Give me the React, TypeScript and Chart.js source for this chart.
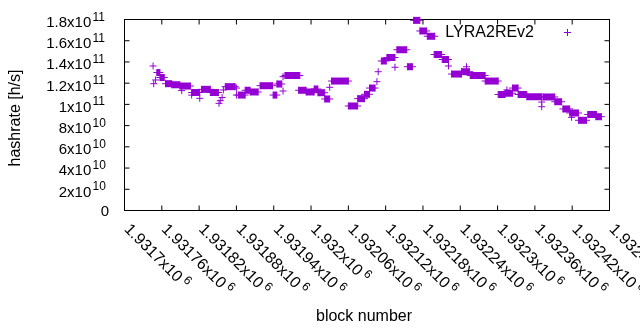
import React, { useEffect, useRef } from "react";
import { Chart, registerables } from "chart.js";

Chart.register(...registerables);

const PURPLE = "#9400d3";
const FONT = "'Liberation Sans', Arial, Helvetica, sans-serif";

// Runs of constant hashrate (block range and value, h/s)
const runStart = [
  1931752, 1931757, 1931766, 1931776, 1931789, 1931808, 1931824, 1931838, 1931862, 1931883,
  1931894, 1931902, 1931918, 1931939, 1931945, 1931958, 1931980, 1931992, 1932005, 1932011,
  1932022, 1932033, 1932060, 1932075, 1932086, 1932094, 1932113, 1932122, 1932138, 1932155,
  1932165, 1932175, 1932187, 1932198, 1932211, 1932226, 1932242, 1932256, 1932280, 1932301,
  1932312, 1932324, 1932333, 1932347, 1932373, 1932392, 1932405, 1932416, 1932430, 1932445,
  1932458,
];
const runEnd = [
  1931757, 1931764, 1931776, 1931789, 1931806, 1931821, 1931838, 1931851, 1931878, 1931894,
  1931902, 1931915, 1931938, 1931945, 1931953, 1931982, 1931992, 1932005, 1932011, 1932022,
  1932030, 1932060, 1932075, 1932086, 1932094, 1932103, 1932121, 1932135, 1932154, 1932163,
  1932175, 1932186, 1932199, 1932210, 1932221, 1932242, 1932255, 1932280, 1932301, 1932312,
  1932324, 1932333, 1932347, 1932371, 1932392, 1932403, 1932416, 1932430, 1932443, 1932459,
  1932467,
];
const runValue = [
  130.0e9, 125.3e9, 119.5e9, 118.5e9, 117.3e9, 111.2e9, 114.2e9, 111.2e9, 116.7e9, 108.8e9,
  113.3e9, 111.7e9, 117.6e9, 108.8e9, 119.2e9, 127.2e9, 113.3e9, 111.7e9, 114.5e9, 111.0e9,
  105.1e9, 122.0e9, 98.5e9, 105.4e9, 109.5e9, 115.4e9, 140.9e9, 144.2e9, 151.5e9, 135.5e9,
  179.2e9, 169.2e9, 164.2e9, 147.0e9, 142.3e9, 128.6e9, 130.8e9, 127.2e9, 122.0e9, 109.3e9,
  110.5e9, 115.4e9, 109.3e9, 107.2e9, 107.0e9, 102.5e9, 95.7e9, 91.9e9, 85.0e9, 90.5e9,
  88.4e9,
];

// Isolated points
const singleBlock = [
  1931746, 1931747, 1931750, 1931792, 1931808, 1931821, 1931852, 1931854, 1931857, 1931859,
  1931880, 1931880, 1931955, 1931955, 1932030, 1932106, 1932108, 1932135, 1932221, 1932250,
  1932315, 1932371, 1932371, 1932419,
];
const singleValue = [
  136.2e9, 119.5e9, 123.0e9, 113.0e9, 108.8e9, 105.7e9, 101.0e9, 103.5e9, 106.5e9, 113.6e9,
  115.4e9, 108.8e9, 126.1e9, 112.6e9, 116.1e9, 121.4e9, 130.8e9, 135.0e9, 136.2e9, 135.5e9,
  113.6e9, 97.8e9, 102.2e9, 87.8e9,
];

const xTickValues = [
  1931700, 1931760, 1931820, 1931880, 1931940, 1932000, 1932060, 1932120, 1932180, 1932240,
  1932300, 1932360, 1932420, 1932480,
];
const xTickMantissa = [
  "1.9317", "1.93176", "1.93182", "1.93188", "1.93194", "1.932", "1.93206", "1.93212",
  "1.93218", "1.93224", "1.9323", "1.93236", "1.93242", "1.93248",
];
const xTickExponent = "6";
const yTickValues = [0, 2e10, 4e10, 6e10, 8e10, 1e11, 1.2e11, 1.4e11, 1.6e11, 1.8e11];
const yTickMantissa = ["0", "2", "4", "6", "8", "1", "1.2", "1.4", "1.6", "1.8"];
const yTickExponent = ["", "10", "10", "10", "10", "11", "11", "11", "11", "11"];

const seriesName = "LYRA2REv2";
const xTitle = "block number";
const yTitle = "hashrate [h/s]";

const Y_FONT = `15px ${FONT}`;
const MAIN_FONT = `16px ${FONT}`;
const SUP_FONT = `12px ${FONT}`;

const framePlugin = {
  id: "gnuplotFrame",
  beforeDatasetsDraw(chart: any) {
    const ctx = chart.ctx;
    const { left, right, top, bottom } = chart.chartArea;
    const xs = chart.scales.x;
    const ys = chart.scales.y;
    ctx.save();
    ctx.strokeStyle = "#000";
    ctx.lineWidth = 1;
    ctx.strokeRect(left, top, right - left, bottom - top);
    const T = 5;
    ctx.beginPath();
    yTickValues.forEach((v) => {
      const py = ys.getPixelForValue(v);
      ctx.moveTo(left, py);
      ctx.lineTo(left + T, py);
      ctx.moveTo(right, py);
      ctx.lineTo(right - T, py);
    });
    xTickValues.forEach((v) => {
      const px = xs.getPixelForValue(v);
      ctx.moveTo(px, bottom);
      ctx.lineTo(px, bottom - T);
      ctx.moveTo(px, top);
      ctx.lineTo(px, top + T);
    });
    ctx.stroke();
    ctx.restore();
  },
  afterDraw(chart: any) {
    const ctx = chart.ctx;
    const { bottom } = chart.chartArea;
    const xs = chart.scales.x;
    const ys = chart.scales.y;
    ctx.save();
    ctx.fillStyle = "#000";
    ctx.textBaseline = "alphabetic";

    // y tick labels
    yTickValues.forEach((v, i) => {
      const py = ys.getPixelForValue(v);
      if (!yTickExponent[i]) {
        ctx.font = Y_FONT;
        ctx.textAlign = "right";
        ctx.fillText(yTickMantissa[i], 109, py + 5.4);
      } else {
        ctx.font = Y_FONT;
        ctx.textAlign = "right";
        ctx.fillText(yTickMantissa[i] + "x10", 91.3, py + 7.4);
        ctx.font = SUP_FONT;
        ctx.textAlign = "left";
        ctx.fillText(yTickExponent[i], 92.5, py + 1.0);
      }
    });

    // x tick labels, rotated
    xTickValues.forEach((v, i) => {
      const px = xs.getPixelForValue(v);
      ctx.save();
      ctx.translate(px - 1, bottom + 19.5);
      ctx.rotate(Math.PI / 4);
      ctx.font = MAIN_FONT;
      ctx.textAlign = "left";
      const main = xTickMantissa[i] + "x10";
      ctx.fillText(main, 0, 0);
      const w = ctx.measureText(main).width;
      ctx.font = SUP_FONT;
      ctx.fillText(xTickExponent, w + 3, -6);
      ctx.restore();
    });

    // axis titles
    ctx.font = MAIN_FONT;
    ctx.textAlign = "center";
    ctx.fillText(xTitle, 364, 321);
    ctx.save();
    ctx.translate(20, 118);
    ctx.rotate(-Math.PI / 2);
    ctx.fillText(yTitle, 0, 0);
    ctx.restore();

    // legend
    ctx.textAlign = "right";
    ctx.fillText(seriesName, 534, 37);
    ctx.strokeStyle = PURPLE;
    ctx.lineWidth = 1;
    ctx.beginPath();
    ctx.moveTo(564, 32.5);
    ctx.lineTo(571, 32.5);
    ctx.moveTo(567.5, 29);
    ctx.lineTo(567.5, 36);
    ctx.stroke();
    ctx.restore();
  },
};

export default function App() {
  const ref = useRef<HTMLCanvasElement>(null);

  useEffect(() => {
    const canvas = ref.current;
    if (!canvas) return;

    const runSets = runStart.map((s, i) => ({
      label: seriesName,
      data: [
        { x: s, y: runValue[i] },
        { x: runEnd[i], y: runValue[i] },
      ],
      showLine: true,
      borderColor: PURPLE,
      backgroundColor: PURPLE,
      borderWidth: 7,
      borderCapStyle: "butt" as const,
      pointStyle: "cross" as const,
      pointRadius: 3.5,
      pointBorderWidth: 1,
      pointBorderColor: PURPLE,
      pointBackgroundColor: PURPLE,
      clip: false as any,
    }));

    const singleSet = {
      label: seriesName,
      data: singleBlock.map((b, i) => ({ x: b, y: singleValue[i] })),
      showLine: false,
      borderColor: PURPLE,
      backgroundColor: PURPLE,
      pointStyle: "cross" as const,
      pointRadius: 3.5,
      pointBorderWidth: 1,
      pointBorderColor: PURPLE,
      clip: false as any,
    };

    const chart = new Chart(canvas, {
      type: "scatter",
      data: { datasets: [...runSets, singleSet] as any },
      options: {
        animation: false,
        responsive: false,
        devicePixelRatio: 1,
        layout: { padding: { top: 19.5, right: 30.5, left: 0, bottom: 0 } },
        plugins: { legend: { display: false }, tooltip: { enabled: false } },
        scales: {
          x: {
            type: "linear",
            min: 1931700,
            max: 1932480,
            ticks: { display: false },
            grid: { display: false },
            border: { display: false },
            afterFit: (scale: any) => {
              scale.height = 119.5;
            },
          },
          y: {
            type: "linear",
            min: 0,
            max: 1.8e11,
            ticks: { display: false },
            grid: { display: false },
            border: { display: false },
            afterFit: (scale: any) => {
              scale.width = 124.5;
            },
          },
        },
      },
      plugins: [framePlugin],
    });

    return () => chart.destroy();
  }, []);

  return (
    <div style={{ position: "fixed", left: 0, top: 0, width: 640, height: 330, background: "#fff" }}>
      <canvas ref={ref} width={640} height={330} style={{ display: "block", width: 640, height: 330 }} />
    </div>
  );
}
